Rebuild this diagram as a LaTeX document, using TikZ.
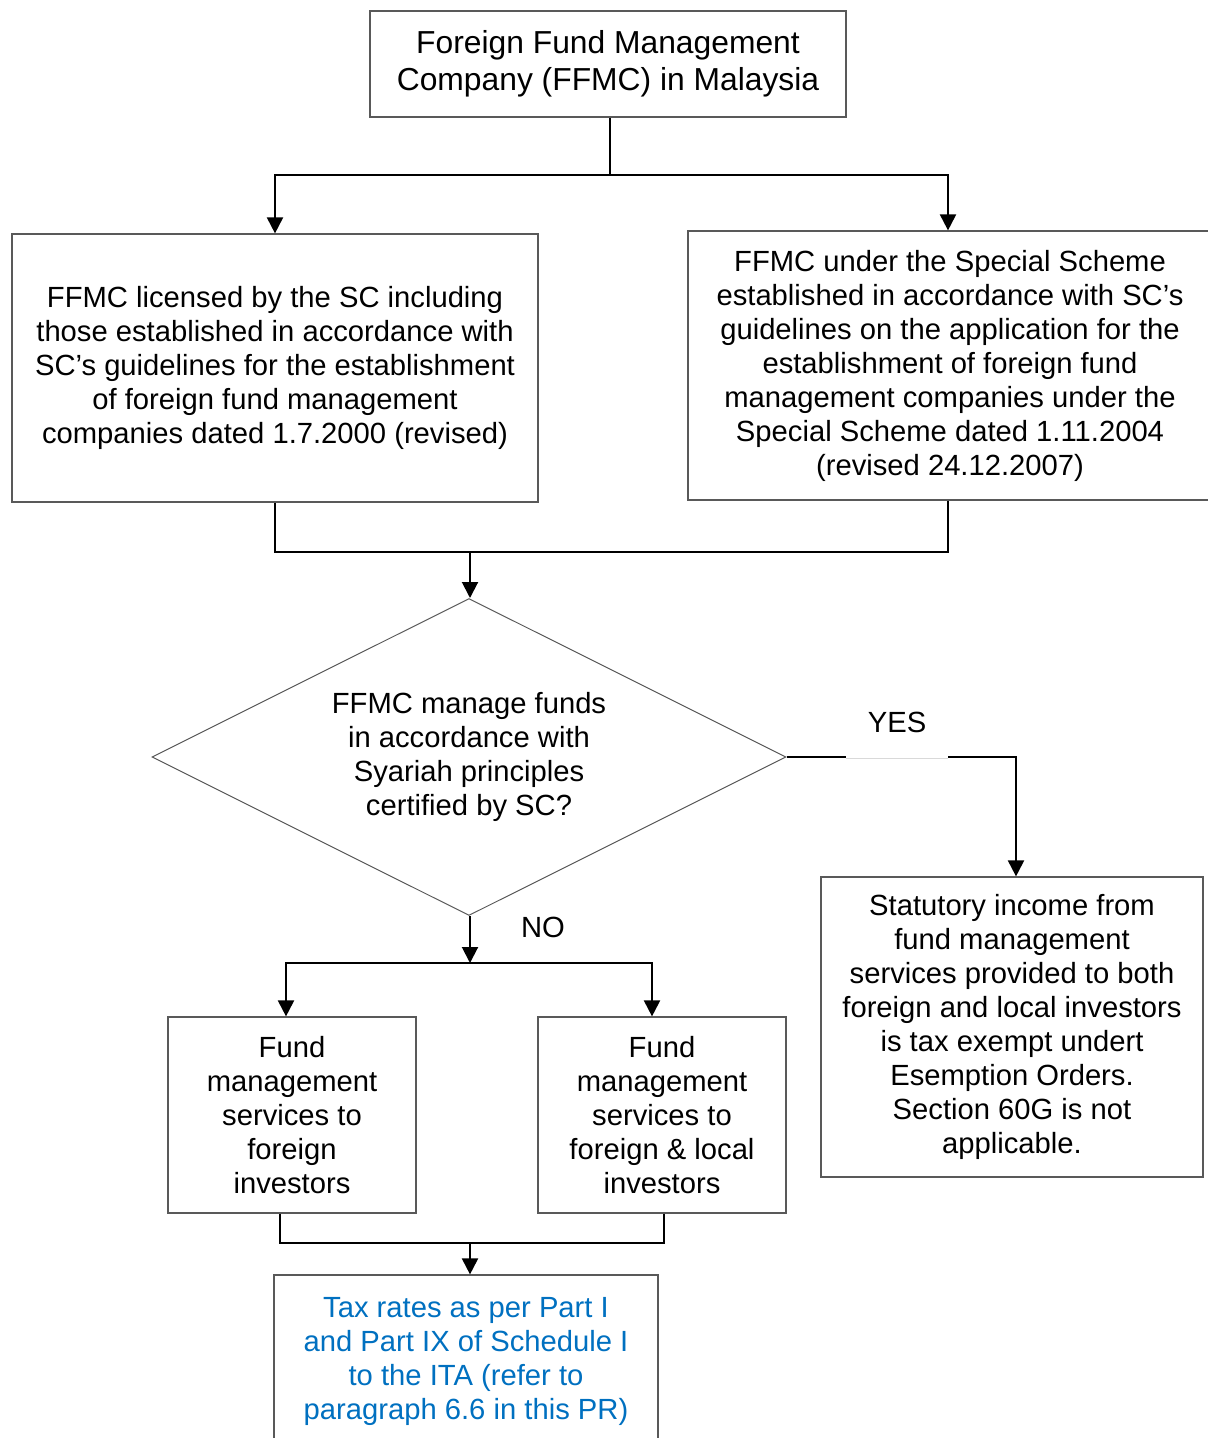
\documentclass[tikz,border=0pt]{standalone}
\usepackage{fontspec}
\setmainfont{Liberation Sans}
\usetikzlibrary{arrows.meta,shapes.geometric}
\definecolor{taxblue}{RGB}{0,112,192}

\tikzset{
  box/.style={draw=black!65, line width=0.6pt, align=center, inner sep=0pt,
    font=\fontsize{14.6}{17}\selectfont},
  link/.style={line width=1pt},
  flow/.style={line width=1pt, -{Triangle[width=8pt,length=8pt]}},
}

\begin{document}
\begin{tikzpicture}[x=0.5pt,y=-0.5pt]
\useasboundingbox (0,0) rectangle (1208,1438);

% Top box and the two kinds of FFMC
\node[box, minimum width=238pt, minimum height=53pt, font=\fontsize{15.9}{18.5}\selectfont] (ffmc) at (608,64)
  {Foreign Fund Management\\Company (FFMC) in Malaysia};
\node[box, minimum width=263pt, minimum height=134pt] (lic) at (275,368)
  {FFMC licensed by the SC including\\those established in accordance with\\SC’s guidelines for the establishment\\of foreign fund management\\companies dated 1.7.2000 (revised)};
\node[box, minimum width=262pt, minimum height=134.5pt] (spec) at (950,365.5)
  {FFMC under the Special Scheme\\established in accordance with SC’s\\guidelines on the application for the\\establishment of foreign fund\\management companies under the\\Special Scheme dated 1.11.2004\\(revised 24.12.2007)};

% Decision
\node[box, diamond, aspect=2, line width=0.5pt, minimum width=317pt, minimum height=158.5pt] (dec) at (469,757)
  {FFMC manage funds\\in accordance with\\Syariah principles\\certified by SC?};

% Outcomes
\node[box, minimum width=191pt, minimum height=150pt] (stat) at (1012,1027)
  {Statutory income from\\fund management\\services provided to both\\foreign and local investors\\is tax exempt undert\\Esemption Orders.\\Section 60G is not\\applicable.};
\node[box, minimum width=124pt, minimum height=98pt] (fundf) at (292,1115)
  {Fund\\management\\services to\\foreign\\investors};
\node[box, minimum width=124pt, minimum height=98pt] (fundl) at (662,1115)
  {Fund\\management\\services to\\foreign \& local\\investors};
\node[box, minimum width=192pt, minimum height=86pt, text=taxblue] (tax) at (466,1361)
  {Tax rates as per Part I\\and Part IX of Schedule I\\to the ITA (refer to\\paragraph 6.6 in this PR)};

% Split and join points
\coordinate (split1) at (610,175);
\coordinate (join1) at (470,552);
\coordinate (split2) at (470,963);
\coordinate (join2) at (470,1243);

% Connectors
\draw[link] (ffmc.south -| split1) -- (split1);
\draw[flow] (split1) -| (lic.north);
\draw[flow] (split1) -| ([xshift=-1pt]spec.north);
\draw[link] (lic.south) |- (join1);
\draw[link] ([xshift=-1pt]spec.south) |- (join1);
\draw[flow] (join1) -- (dec.north -| join1);

\draw[flow] (dec.east) -| ([xshift=2pt]stat.north);
\fill[white] (846,740) rectangle (948,757.5);
\draw[black!15, line width=0.4pt] (846,758) -- (948,758);
\node[font=\fontsize{14.6}{17}\selectfont] (yes) at (897,722) {YES};

\draw[flow] (dec.south -| split2) -- (split2);
\node[font=\fontsize{14.6}{17}\selectfont] (no) at (543,927) {NO};
\draw[flow] (split2) -| ([xshift=-3pt]fundf.north);
\draw[flow] (split2) -| ([xshift=-5pt]fundl.north);

\draw[link] ([xshift=-6pt]fundf.south) |- (join2);
\draw[link] ([xshift=1pt]fundl.south) |- (join2);
\draw[flow] (join2) -- (tax.north -| join2);

\end{tikzpicture}
\end{document}
